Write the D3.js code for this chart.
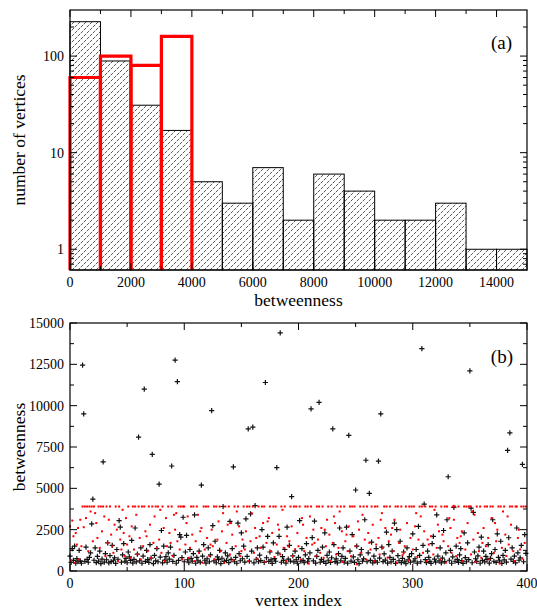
<!DOCTYPE html>
<html>
<head>
<meta charset="utf-8">
<script src="https://cdn.jsdelivr.net/npm/d3@7"></script>
<style>
    body { margin: 0; background: #fff; }
    svg text { font-family: "Liberation Serif", "Times New Roman", serif; fill: #000; }
</style>
</head>
<body>
<svg id="chart" width="537" height="610"></svg>
<script>
// ---- panel (a): histogram of betweenness ----
const binStarts = [0, 1000, 2000, 3000, 4000, 5000, 6000, 7000, 8000, 9000, 10000, 11000, 12000, 13000, 14000];
const allCounts = [227, 89, 31, 17, 5, 3, 7, 2, 6, 4, 2, 2, 3, 1, 1];
const redBinStarts = [0, 1000, 2000, 3000];
const redCounts = [60, 100, 80, 160];
const binWidth = 1000;
const xTicksA = [0, 2000, 4000, 6000, 8000, 10000, 12000, 14000];
const yTicksA = [1, 10, 100];

// ---- panel (b): betweenness per vertex ----
const xTicksB = [0, 100, 200, 300, 400];
const yTicksB = [0, 2500, 5000, 7500, 10000, 12500, 15000];

const blackBetweenness = [
    900, 520, 1350, 640, 1500, 480, 750, 560, 1250, 610, 470, 12450, 9500, 580, 1450, 700, 530, 820, 1100, 2850,
    4350, 650, 1400, 510, 880, 600, 1200, 450, 720, 6600, 540, 1050, 680, 1700, 490, 930, 570, 1550, 620, 800,
    460, 1300, 710, 3050, 2650, 530, 980, 1650, 590, 760, 500, 1150, 850, 640, 1850, 480, 700, 2600, 550, 1020,
    8100, 620, 1400, 470, 900, 11000, 580, 1250, 690, 520, 1600, 780, 7050, 450, 940, 610, 1350, 560, 5250, 840,
    2450, 490, 1500, 660, 870, 530, 1100, 720, 1450, 6350, 580, 950, 12750, 470, 11450, 640, 2200, 2050, 810, 3250,
    560, 1150, 2150, 680, 500, 1300, 760, 590, 1050, 3400, 470, 830, 620, 1200, 540, 5200, 900, 1600, 650, 480,
    740, 1400, 560, 980, 9700, 2750, 610, 1800, 500, 860, 690, 1250, 450, 770, 3900, 580, 1100, 640, 920, 510,
    3000, 700, 1350, 6300, 560, 830, 470, 2900, 1050, 620, 2300, 740, 1500, 540, 3150, 880, 8600, 600, 3450, 1200,
    8700, 490, 3950, 710, 1400, 560, 960, 630, 2500, 1450, 520, 11400, 800, 2100, 580, 1150, 670, 460, 1700, 750,
    590, 6250, 1080, 2100, 14400, 530, 870, 640, 1300, 480, 2650, 720, 1550, 600, 4500, 910, 550, 1200, 680, 470,
    820, 3050, 590, 1350, 640, 500, 980, 1650, 560, 750, 1100, 9800, 2020, 610, 3020, 480, 890, 1250, 10200, 530,
    700, 1450, 580, 2300, 460, 940, 650, 1150, 520, 800, 8600, 1600, 570, 730, 490, 1050, 2600, 620, 880, 1400,
    540, 760, 2650, 470, 8200, 1200, 600, 2200, 850, 520, 4900, 1500, 680, 450, 970, 1300, 590, 740, 3100, 6700,
    560, 1100, 4700, 640, 1750, 490, 900, 610, 1350, 530, 6650, 780, 9500, 1450, 570, 1030, 660, 2350, 480, 1600,
    820, 550, 1200, 700, 2900, 460, 2500, 930, 620, 1800, 510, 760, 1150, 590, 450, 1400, 670, 870, 530, 1050,
    2250, 600, 740, 1300, 480, 2700, 950, 560, 13450, 1550, 4050, 690, 510, 1200, 830, 580, 460, 1650, 2100, 720,
    540, 3400, 900, 610, 1400, 490, 780, 2450, 570, 1100, 3100, 5700, 650, 1250, 470, 860, 3850, 590, 1500, 700,
    520, 980, 1350, 630, 460, 2300, 810, 560, 1700, 690, 12100, 3800, 500, 3550, 1150, 740, 580, 920, 1450, 470,
    2050, 640, 1200, 550, 880, 700, 1600, 480, 760, 1050, 3100, 590, 1300, 520, 2250, 830, 610, 1800, 460, 950,
    670, 1250, 540, 7300, 2010, 8350, 720, 1400, 580, 900, 490, 2600, 1100, 650, 800, 1550, 6450, 560, 2200, 1060
];

const redBetweenness = [
    2700, 650, 3050, 2100, 500, 2300, 1600, 2600, 700, 3100, 1500, 3900, 2650, 3900, 3200, 3900, 1200, 3900, 3600, 3900,
    1800, 3900, 3500, 2900, 2000, 3900, 1400, 3900, 2400, 3900, 3300, 900, 3900, 1700, 3100, 3900, 2200, 1500, 1100, 2800,
    3900, 2500, 600, 3900, 1900, 1300, 3700, 2300, 900, 3200, 1600, 3900, 2100, 800, 2700, 3900, 1300, 3900, 3400, 1000,
    3900, 2000, 700, 3900, 1500, 3900, 2400, 2100, 1200, 3900, 2800, 800, 3900, 1700, 3300, 3900, 1400, 3900, 1900, 3700,
    1100, 3900, 2600, 600, 3200, 1500, 3900, 2300, 1700, 3900, 900, 3400, 2500, 3500, 1800, 3900, 1300, 3900, 700, 3900,
    3900, 1600, 2900, 3300, 800, 1400, 3900, 2200, 3900, 600, 1800, 3900, 3400, 1100, 2400, 2600, 500, 3900, 1300, 3900,
    2000, 3900, 900, 1600, 2500, 1500, 3900, 700, 3900, 1900, 3000, 3900, 1200, 2400, 3500, 500, 3900, 1700, 2800, 3900,
    1000, 2900, 2200, 650, 3900, 1500, 3600, 3900, 2700, 900, 1200, 1900, 3900, 1300, 2400, 3900, 600, 3900, 1800, 3500,
    3900, 1100, 2600, 2000, 750, 3900, 2100, 1400, 3900, 2900, 3900, 550, 1700, 3000, 3200, 3900, 1200, 2300, 3900, 850,
    3900, 1600, 2800, 2500, 1000, 3900, 3700, 1400, 3900, 600, 2100, 1500, 1800, 3900, 2700, 900, 3900, 1300, 3900, 2300,
    1500, 3900, 700, 3200, 2800, 1200, 3900, 2000, 3900, 450, 3300, 3900, 1600, 2500, 1700, 900, 3900, 1900, 3900, 1100,
    2600, 3900, 800, 2500, 1500, 3100, 3900, 2200, 600, 3900, 1700, 3300, 2900, 1000, 3900, 1400, 3600, 3900, 2400, 550,
    3900, 1800, 2200, 1200, 2700, 3900, 900, 3900, 2100, 3900, 1500, 400, 3000, 2500, 3900, 1100, 3400, 3900, 1900, 700,
    3900, 2300, 1700, 1300, 3900, 2800, 600, 3900, 1600, 3900, 2000, 1000, 3100, 3500, 1400, 3900, 2600, 3900, 800, 1800,
    3900, 2200, 2600, 1200, 3100, 3900, 500, 3900, 1700, 2500, 3900, 950, 1100, 1500, 3900, 2900, 650, 3900, 2000, 3900,
    1300, 3900, 2700, 3500, 850, 1900, 3900, 3300, 3900, 1100, 2400, 3900, 600, 1900, 1600, 3900, 2100, 3900, 1000, 3700,
    3900, 1400, 2800, 2400, 700, 3900, 2200, 1800, 3900, 500, 3900, 1500, 3200, 2600, 1100, 3900, 3100, 3900, 900, 2000,
    3900, 1700, 2100, 2400, 600, 3900, 1300, 3900, 2900, 3900, 3900, 1000, 3600, 1900, 3400, 550, 3900, 2300, 1200, 3900,
    800, 1700, 2600, 3900, 1500, 3900, 2000, 700, 3900, 3200, 3900, 1100, 2900, 1800, 2500, 3900, 450, 3900, 1400, 3600,
    3900, 2200, 900, 3300, 1600, 3900, 2800, 3900, 1200, 600, 3900, 3900, 2000, 2500, 1300, 3900, 750, 3900, 1700, 3900
];

const svg = d3.select("#chart");
const left = 70, right = 527;

svg.append("defs").append("pattern")
    .attr("id", "hatch")
    .attr("patternUnits", "userSpaceOnUse")
    .attr("width", 6).attr("height", 6)
    .append("path")
    .attr("d", "M0,6 L6,0 M-1,1 L1,-1 M5,7 L7,5")
    .attr("stroke", "#222")
    .attr("stroke-width", 0.75)
    .attr("stroke-dasharray", "3,1");

// draws inward ticks on all four sides of a panel
function frameTicks(g, xs, ys, top, bottom, xMajor, xMinor, yMajor, yMinor) {
    const tick = (x1, y1, x2, y2) => g.append("line")
        .attr("x1", x1).attr("y1", y1).attr("x2", x2).attr("y2", y2)
        .attr("stroke", "#000").attr("stroke-width", 1);
    xMajor.forEach(v => { tick(xs(v), bottom, xs(v), bottom - 7); tick(xs(v), top, xs(v), top + 7); });
    xMinor.forEach(v => { tick(xs(v), bottom, xs(v), bottom - 4); tick(xs(v), top, xs(v), top + 4); });
    yMajor.forEach(v => { tick(left, ys(v), left + 7, ys(v)); tick(right, ys(v), right - 7, ys(v)); });
    yMinor.forEach(v => { tick(left, ys(v), left + 4, ys(v)); tick(right, ys(v), right - 4, ys(v)); });
    g.append("rect")
        .attr("x", left).attr("y", top)
        .attr("width", right - left).attr("height", bottom - top)
        .attr("fill", "none").attr("stroke", "#000").attr("stroke-width", 1.2);
}

// ---------- panel (a) ----------
const topA = 10, bottomA = 270;
const xA = d3.scaleLinear().domain([0, 15000]).range([left, right]);
const yA = d3.scaleLog().domain([0.61, 300]).range([bottomA, topA]);
const gA = svg.append("g");

gA.selectAll("rect.bar")
    .data(binStarts)
    .enter()
    .append("rect")
    .attr("class", "bar")
    .attr("x", (d) => xA(d))
    .attr("y", (d, i) => yA(allCounts[i]))
    .attr("width", xA(binWidth) - xA(0))
    .attr("height", (d, i) => bottomA - yA(allCounts[i]))
    .attr("fill", "url(#hatch)")
    .attr("stroke", "#000")
    .attr("stroke-width", 1);

gA.selectAll("path.red")
    .data(redBinStarts)
    .enter()
    .append("path")
    .attr("class", "red")
    .attr("d", (d, i) => `M${xA(d)},${bottomA} V${yA(redCounts[i])} H${xA(d + binWidth)} V${bottomA}`)
    .attr("fill", "none")
    .attr("stroke", "#f00")
    .attr("stroke-width", 3.2);

const logMinor = [];
[0.1, 1, 10, 100].forEach(dec => {
    for (let k = 2; k <= 9; k++) {
        const v = dec * k;
        if (v > 0.61 && v < 300) logMinor.push(v);
    }
});
const xMinorA = d3.range(1000, 15000, 2000);
frameTicks(gA, xA, yA, topA, bottomA, xTicksA, xMinorA, yTicksA, logMinor);

gA.selectAll("text.xt")
    .data(xTicksA)
    .enter()
    .append("text")
    .attr("x", (d) => xA(d))
    .attr("y", 287)
    .attr("text-anchor", "middle")
    .attr("font-size", 14)
    .text((d) => d);

gA.selectAll("text.yt")
    .data(yTicksA)
    .enter()
    .append("text")
    .attr("x", 64)
    .attr("y", (d) => yA(d) + 5)
    .attr("text-anchor", "end")
    .attr("font-size", 14)
    .text((d) => d);

gA.append("text")
    .attr("x", (left + right) / 2).attr("y", 306)
    .attr("text-anchor", "middle").attr("font-size", 17.5)
    .text("betweenness");

gA.append("text")
    .attr("transform", "translate(25,140) rotate(-90)")
    .attr("text-anchor", "middle").attr("font-size", 17.5)
    .text("number of vertices");

gA.append("text")
    .attr("x", 512).attr("y", 49)
    .attr("text-anchor", "end").attr("font-size", 19)
    .text("(a)");

// ---------- panel (b) ----------
const topB = 323, bottomB = 571;
const xB = d3.scaleLinear().domain([0, 400]).range([left, right]);
const yB = d3.scaleLinear().domain([0, 15000]).range([bottomB, topB]);
const gB = svg.append("g");

gB.selectAll("path.plus")
    .data(blackBetweenness)
    .enter()
    .append("path")
    .attr("class", "plus")
    .attr("d", (d, i) => `M${xB(i) - 2.6},${yB(d)} h5.2 M${xB(i)},${yB(d) - 2.6} v5.2`)
    .attr("stroke", "#111")
    .attr("stroke-width", 1.2);

gB.selectAll("rect.dot")
    .data(redBetweenness)
    .enter()
    .append("rect")
    .attr("class", "dot")
    .attr("x", (d, i) => xB(i) - 1)
    .attr("y", (d) => yB(d) - 1)
    .attr("width", 2)
    .attr("height", 2)
    .attr("fill", "#f00");

const xMinorB = d3.range(50, 400, 100);
const yMinorB = d3.range(1250, 15000, 2500);
frameTicks(gB, xB, yB, topB, bottomB, xTicksB, xMinorB, yTicksB, yMinorB);

gB.selectAll("text.xt")
    .data(xTicksB)
    .enter()
    .append("text")
    .attr("x", (d) => xB(d))
    .attr("y", 588)
    .attr("text-anchor", "middle")
    .attr("font-size", 14)
    .text((d) => d);

gB.selectAll("text.yt")
    .data(yTicksB)
    .enter()
    .append("text")
    .attr("x", 64)
    .attr("y", (d) => yB(d) + 5)
    .attr("text-anchor", "end")
    .attr("font-size", 14)
    .text((d) => d);

gB.append("text")
    .attr("x", (left + right) / 2).attr("y", 606)
    .attr("text-anchor", "middle").attr("font-size", 17.5)
    .text("vertex index");

gB.append("text")
    .attr("transform", "translate(25,447) rotate(-90)")
    .attr("text-anchor", "middle").attr("font-size", 17.5)
    .text("betweenness");

gB.append("text")
    .attr("x", 513).attr("y", 363)
    .attr("text-anchor", "end").attr("font-size", 19)
    .text("(b)");
</script>
</body>
</html>
